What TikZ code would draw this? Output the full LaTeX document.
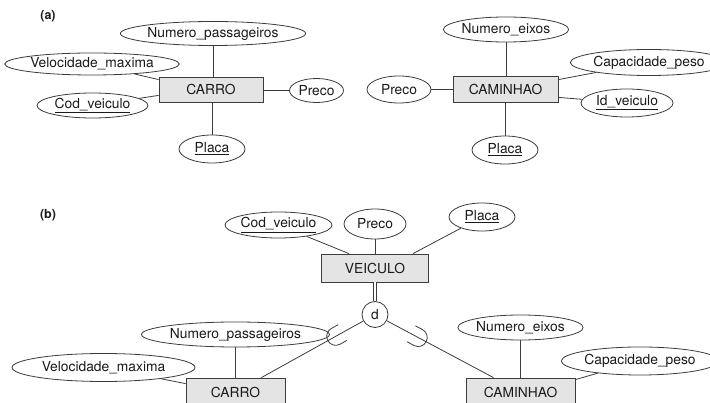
\documentclass[tikz,border=0pt]{standalone}
\usepackage{fontspec}
\setmainfont{TeX Gyre Heros}
\usetikzlibrary{shapes.geometric,calc}
\definecolor{ln}{HTML}{3C3C3C}
\definecolor{boxfill}{HTML}{E4E4E4}
\definecolor{txt}{HTML}{1A1A1A}
\begin{document}
\begin{tikzpicture}[x=1pt,y=1pt,
  attr/.style={ellipse, draw=ln, line width=0.8pt, inner sep=0pt, fill=white, text=txt, font=\fontsize{13.8}{16}\selectfont},
  ent/.style={rectangle, draw=ln, fill=boxfill, line width=0.8pt, inner sep=0pt, text=txt, font=\fontsize{13.8}{16}\selectfont},
  sz/.style 2 args={minimum width=#1pt, minimum height=#2pt},
  conn/.style={draw=ln, line width=0.8pt},
  lbl/.style={font=\fontsize{12.5}{14}\selectfont\bfseries, text=txt, inner sep=0pt}]
\useasboundingbox (0,0) rectangle (710,-403);
\clip (0,0) rectangle (710,-403);

% ---------- (a) ----------
\node[lbl] (la) at (48,-16) {(a)};
\node[ent, sz={104}{25}] (carroA) at (211,-89.5) {CARRO};
\node[attr, sz={177}{24}] (npA) at (213,-33.5) {Numero\_passageiros};
\node[attr, sz={170}{22}] (vmA) at (92,-64) {Velocidade\_maxima};
\node[attr, sz={111}{25}] (cvA) at (92.5,-105.5) {\underline{Cod\_veiculo}};
\node[attr, sz={54}{24}] (prA) at (316.5,-90.5) {Preco};
\node[attr, sz={66}{28}] (plA) at (212,-149) {\underline{Placa}};

\draw[conn] (npA) -- (npA |- carroA.north);
\draw[conn] (plA) -- (plA |- carroA.south);
\draw[conn] (prA) -- (prA -| carroA.east);
\draw[conn] (vmA) -- ([yshift=-3pt]carroA.north west);
\draw[conn] (cvA) -- ([yshift=7pt]carroA.south west);

\node[ent, sz={105}{26}] (camA) at (505.5,-89) {CAMINHAO};
\node[attr, sz={124}{25}] (neA) at (506,-29.5) {Numero\_eixos};
\node[attr, sz={64}{27}] (prA2) at (399,-89.5) {Preco};
\node[attr, sz={122}{26}] (cpA) at (649,-62.5) {Capacidade\_peso};
\node[attr, sz={92}{28}] (idA) at (627,-103) {\underline{Id\_veiculo}};
\node[attr, sz={66}{28}] (plA2) at (505,-150) {\underline{Placa}};

\draw[conn] (neA) -- (neA |- camA.north);
\draw[conn] (plA2) -- (plA2 |- camA.south);
\draw[conn] (prA2) -- (prA2 -| camA.west);
\draw[conn] (cpA) -- ([yshift=-4pt]camA.north east);
\draw[conn] (idA) -- ([yshift=5pt]camA.south east);

% ---------- (b) ----------
\node[lbl] (lb) at (48,-215) {(b)};
\node[ent, sz={107}{28}] (veic) at (375,-268) {VEICULO};
\node[attr, sz={97}{26}] (cvB) at (278.5,-225) {\underline{Cod\_veiculo}};
\node[attr, sz={62}{30}] (prB) at (375,-224) {Preco};
\node[attr, sz={66}{28}] (plB) at (482,-217) {\underline{Placa}};

\draw[conn] (prB) -- (prB |- veic.north);
\draw[conn] (cvB) -- ([xshift=-26pt]veic.north);
\draw[conn] (plB) -- ([xshift=38pt]veic.north);

\node[circle, draw=ln, line width=0.8pt, fill=white, minimum size=26pt, inner sep=0pt, text=txt, font=\fontsize{13.8}{16}\selectfont] (dd) at (375,-314.5) {d};
\draw[ln, line width=0.7pt, double=white, double distance=2pt] (veic) -- (dd);

\node[ent, sz={99}{28}] (carroB) at (235.5,-392) {CARRO};
\node[ent, sz={109}{28}] (camB) at (520.5,-392) {CAMINHAO};
\node[attr, sz={188}{25}] (npB) at (235.5,-334.5) {Numero\_passageiros};
\node[attr, sz={183}{28}] (vmB) at (103.5,-367.5) {Velocidade\_maxima};
\node[attr, sz={125}{25}] (neB) at (520.5,-327.5) {Numero\_eixos};
\node[attr, sz={121}{28}] (cpB) at (640,-361) {Capacidade\_peso};

\draw[conn] (npB) -- (npB |- carroB.north);
\draw[conn] (vmB) -- ([yshift=-6pt]carroB.north west);
\draw[conn] (neB) -- (neB |- camB.north);
\draw[conn] (cpB) -- ([yshift=-2pt]camB.north east);

\draw[conn] (dd) -- (carroB);
\draw[conn] (dd) -- (camB);

\begin{scope}[shift={($(dd)!45pt!(carroB)$)}, rotate=209]
  \draw[conn] (-8,9) -- (0,9) arc[start angle=90, end angle=-90, radius=9] -- (-8,-9);
\end{scope}
\begin{scope}[shift={($(dd)!49pt!(camB)$)}, rotate=-28]
  \draw[conn] (-8,9) -- (0,9) arc[start angle=90, end angle=-90, radius=9] -- (-8,-9);
\end{scope}
\end{tikzpicture}
\end{document}
